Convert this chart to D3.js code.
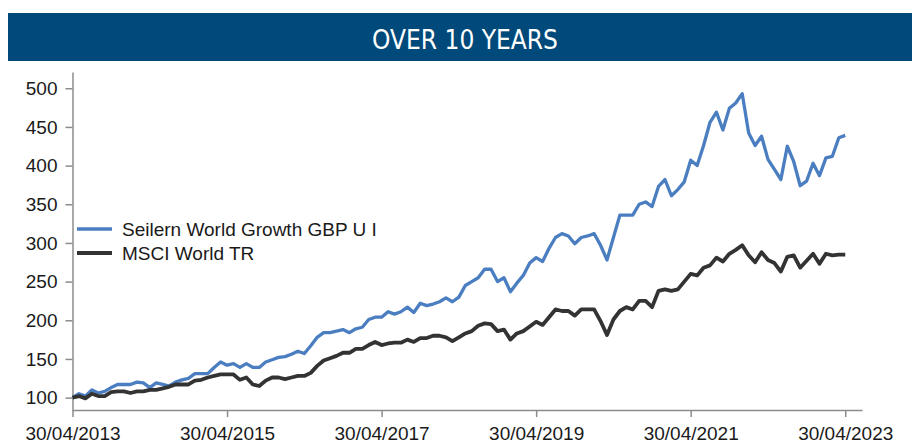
<!DOCTYPE html>
<html>
<head>
<meta charset="utf-8">
<script src="https://cdn.jsdelivr.net/npm/d3@7"></script>
<style>
  body { margin: 0; background: #fff; }
  svg { display: block; }
</style>
</head>
<body>
<div id="chart"></div>
<script>
var title = "OVER 10 YEARS";
var seriesNames = ["Seilern World Growth GBP U I", "MSCI World TR"];

// monthly values, 30/04/2013 .. 30/04/2023 (rebased to 100)
var seilern = [
  100, 105, 102, 110, 106, 108, 113, 117, 117, 117, 120, 119, 113, 119, 117, 115, 120, 123, 125, 131,
  131, 131, 139, 146, 142, 144, 139, 144, 139, 139, 146, 149, 152, 153, 156, 160, 157, 167, 178, 184,
  184, 186, 188, 184, 189, 191, 201, 204, 204, 211, 208, 211, 217, 210, 222, 219, 221, 224, 229, 224,
  230, 245, 250, 255, 266, 266, 250, 255, 237, 248, 258, 274, 281, 276, 293, 307, 312, 309, 299, 307,
  309, 312, 297, 278, 307, 336, 336, 336, 350, 353, 347, 373, 382, 361, 369, 379, 407, 400, 426, 456,
  469, 446, 474, 481, 493, 442, 426, 438, 408, 395, 382, 425, 405, 374, 380, 403, 387, 410, 412, 436,
  439
];
var msci = [
  100, 102, 99, 105, 102, 102, 107, 108, 108, 106, 108, 108, 110, 110, 112, 114, 117, 117, 117, 122,
  123, 126, 128, 130, 130, 130, 123, 126, 117, 115, 122, 126, 126, 124, 126, 128, 128, 132, 141, 148,
  151, 154, 158, 158, 163, 163, 168, 172, 168, 170, 171, 171, 175, 172, 177, 177, 180, 180, 178, 173,
  178, 183, 186, 193, 196, 195, 186, 188, 175, 183, 186, 192, 198, 194, 204, 214, 212, 212, 206, 214,
  214, 214, 199, 181, 201, 212, 217, 214, 225, 225, 217, 238, 240, 238, 240, 250, 260, 258, 268, 271,
  281, 276, 286, 291, 297, 284, 275, 288, 278, 274, 263, 282, 284, 268, 277, 286, 273, 286, 284, 285,
  285
];

var yTicks = [100, 150, 200, 250, 300, 350, 400, 450, 500];
var xTickMonths = [0, 24, 48, 72, 96, 120];
var xTickLabels = ["30/04/2013", "30/04/2015", "30/04/2017", "30/04/2019", "30/04/2021", "30/04/2023"];

function init(){

    var w = 912;
    var h = 443;
    var font = "'Liberation Sans', Arial, sans-serif";

    var svg = d3.select("#chart")
        .append("svg")
        .attr("width", w)
        .attr("height", h);

    // header band
    svg.append("rect")
        .attr("x", 8)
        .attr("y", 13)
        .attr("width", w - 8)
        .attr("height", 48)
        .attr("fill", "#00497b");

    svg.append("text")
        .attr("x", 465)
        .attr("y", 49)
        .attr("text-anchor", "middle")
        .attr("fill", "#fff")
        .style("font-family", "'Liberation Sans Narrow', 'DejaVu Sans Condensed', sans-serif")
        .style("font-size", "26px")
        .attr("textLength", 186)
        .attr("lengthAdjust", "spacingAndGlyphs")
        .text(title);

    var xScale = d3.scaleLinear()
        .domain([0, 122.6])
        .range([72.5, 862]);

    var yScale = d3.scaleLinear()
        .domain([84, 521])
        .range([410, 72]);

    // axes
    var yAxis = d3.axisLeft(yScale)
        .tickValues(yTicks)
        .tickSize(7)
        .tickSizeOuter(0)
        .tickPadding(8);

    var xAxis = d3.axisBottom(xScale)
        .tickValues(xTickMonths)
        .tickFormat(function(d, i){ return xTickLabels[i]; })
        .tickSize(7)
        .tickSizeOuter(0)
        .tickPadding(10);

    var gy = svg.append("g")
        .attr("transform", "translate(" + xScale(0) + ",0)")
        .call(yAxis);

    var gx = svg.append("g")
        .attr("transform", "translate(0," + yScale.range()[0] + ")")
        .call(xAxis);

    [gx, gy].forEach(function(g){
        g.selectAll("path, line")
            .attr("stroke", "#8c8c8c")
            .attr("stroke-width", 1.5);
        g.selectAll("text")
            .attr("fill", "#1a1a1a")
            .style("font-family", font)
            .style("font-size", "19px");
    });

    // lines
    var line = d3.line()
        .x(function(d, i){ return xScale(i); })
        .y(function(d){ return yScale(d); });

    var colors = ["#4a7ec1", "#333333"];
    var widths = [3.3, 3.8];

    svg.selectAll("path.series")
        .data([seilern, msci])
        .enter()
        .append("path")
        .attr("class", "series")
        .attr("d", line)
        .attr("fill", "none")
        .attr("stroke", function(d, i){ return colors[i]; })
        .attr("stroke-width", function(d, i){ return widths[i]; })
        .attr("stroke-linejoin", "round");

    // legend
    var legend = svg.selectAll("g.legend")
        .data(seriesNames)
        .enter()
        .append("g")
        .attr("class", "legend")
        .attr("transform", function(d, i){ return "translate(77," + (229 + i * 24) + ")"; });

    legend.append("line")
        .attr("x1", 0)
        .attr("x2", 35)
        .attr("stroke", function(d, i){ return colors[i]; })
        .attr("stroke-width", function(d, i){ return widths[i]; });

    legend.append("text")
        .attr("x", 45)
        .attr("y", 7)
        .attr("fill", "#1a1a1a")
        .style("font-family", font)
        .style("font-size", "19px")
        .text(function(d){ return d; });
}
window.onload = init;
</script>
</body>
</html>
